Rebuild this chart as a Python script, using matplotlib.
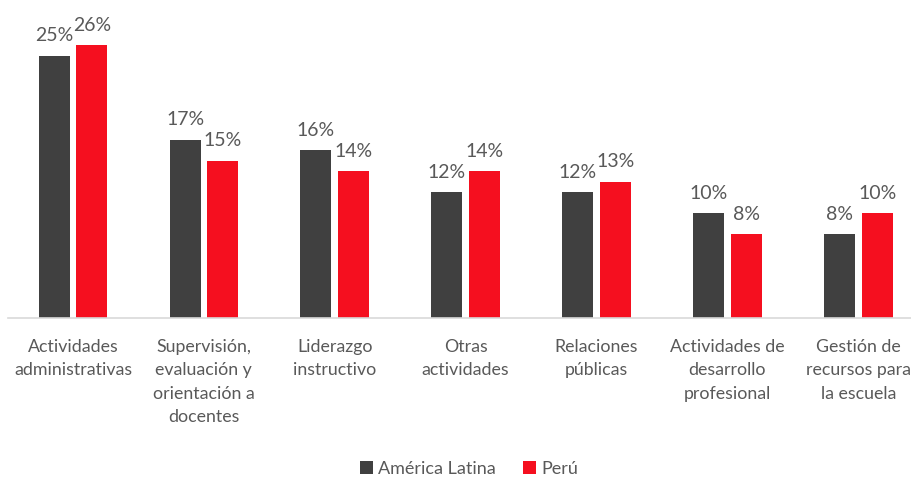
import matplotlib
matplotlib.use("Agg")
import matplotlib.pyplot as plt
import numpy as np

categories = [
    "Actividades\nadministrativas",
    "Supervisión,\nevaluación y\norientación a\ndocentes",
    "Liderazgo\ninstructivo",
    "Otras\nactividades",
    "Relaciones\npúblicas",
    "Actividades de\ndesarrollo\nprofesional",
    "Gestión de\nrecursos para\nla escuela",
]
america_latina = [25, 17, 16, 12, 12, 10, 8]
peru = [26, 15, 14, 14, 13, 8, 10]
series_names = ["América Latina", "Perú"]

GRAY = "#404040"
RED = "#F50F1F"
TEXT = "#595959"

plt.rcParams["font.family"] = ["Lato", "DejaVu Sans"]

fig = plt.figure(figsize=(9.12, 4.8), dpi=100)
W, H = 912, 480
px_per_cat = 130.9
left_px = 7.5
base_px = 318
px_per_unit = 10.5
ax = fig.add_axes([left_px / W, (H - base_px) / H,
                   7 * px_per_cat / W, base_px / H])

x = np.arange(len(categories))
bw = 0.237
gap = 0.05
off = (bw + gap) / 2
b1 = ax.bar(x - off, america_latina, bw, color=GRAY, label=series_names[0])
b2 = ax.bar(x + off, peru, bw, color=RED, label=series_names[1])

for bars, vals in ((b1, america_latina), (b2, peru)):
    for r, v in zip(bars, vals):
        ax.annotate(f"{v}%", (r.get_x() + r.get_width() / 2, v),
                    xytext=(0, 8), textcoords="offset points",
                    ha="center", va="bottom", fontsize=14, color=TEXT)

ax.set_xlim(-0.5, len(categories) - 0.5)
ax.set_ylim(0, base_px / px_per_unit)
ax.set_xticks(x)
ax.set_xticklabels(categories, fontsize=12.8, color=TEXT, linespacing=1.58,
                   va="top", ha="center")
ax.tick_params(axis="x", length=0, pad=15)
ax.set_yticks([])
for s in ("top", "right", "left"):
    ax.spines[s].set_visible(False)
ax.spines["bottom"].set_color("#D9D9D9")
ax.spines["bottom"].set_linewidth(1.2)

fig.legend(handles=[b1, b2], labels=series_names, loc="center",
           bbox_to_anchor=(469 / W, 1 - 469 / H), ncol=2, frameon=False,
           fontsize=13, labelcolor=TEXT, handlelength=0.7, handleheight=0.7,
           handletextpad=0.3, columnspacing=1.5)

fig.savefig("out.png", dpi=100)
